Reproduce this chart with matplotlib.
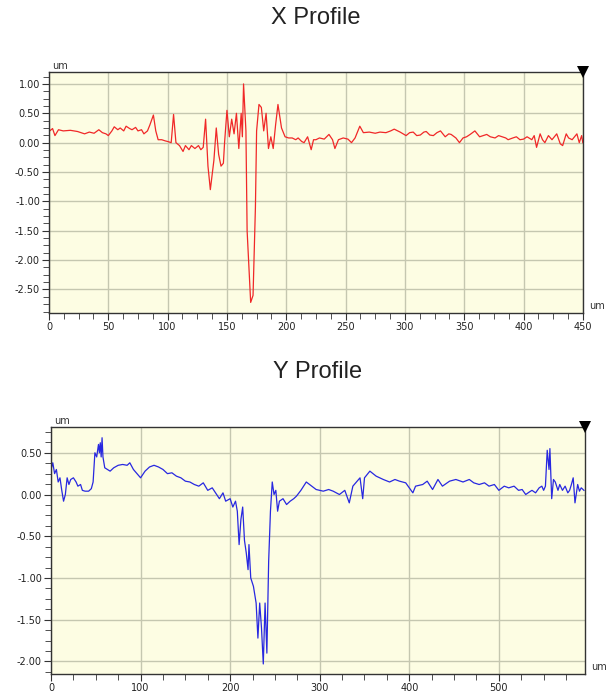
import matplotlib
matplotlib.use('Agg')
import matplotlib.pyplot as plt
from matplotlib.ticker import MultipleLocator, FormatStrFormatter

# X profile (position um, height um)
x_pos = [0, 3, 5, 8, 12, 18, 24, 30, 34, 38,
         42, 45, 48, 50, 53, 55, 58, 60, 63, 65,
         68, 70, 73, 75, 78, 80, 83, 85, 88, 90,
         92, 95, 98, 100, 103, 105, 107, 110, 113, 115,
         118, 120, 123, 126, 128, 130, 132, 134, 136, 139,
         141, 143, 145, 147, 148, 150, 152, 154, 156, 158,
         160, 162, 163, 164, 166, 167, 170, 172, 174, 175,
         177, 179, 181, 183, 185, 187, 189, 191, 193, 196,
         199, 202, 205, 208, 210, 213, 215, 218, 221, 223,
         225, 228, 232, 236, 239, 241, 244, 248, 252, 255,
         258, 262, 265, 270,
         275, 279, 284, 288, 291, 296, 301, 304, 307, 310,
         313, 316, 318, 321, 324, 327, 330, 334, 337, 339,
         343, 346, 349, 352, 355, 359, 363, 366, 369, 372,
         376, 379, 382, 385, 387, 391, 394, 397, 400, 403,
         407, 409, 411, 414, 416, 418, 421, 424, 426, 428,
         431, 433, 436, 438, 441, 443, 445, 447, 449, 450]
x_val = [0.19, 0.24, 0.12, 0.22, 0.2, 0.21, 0.19, 0.15, 0.18, 0.16,
         0.22, 0.17, 0.15, 0.12, 0.2, 0.27, 0.22, 0.25, 0.2, 0.28,
         0.24, 0.22, 0.26, 0.2, 0.22, 0.15, 0.2, 0.3, 0.47, 0.2,
         0.05, 0.05, 0.03, 0.02, 0.0, 0.48, 0.0, -0.05, -0.15, -0.05,
         -0.12, -0.05, -0.1, -0.05, -0.12, -0.08, 0.4, -0.4, -0.8, -0.3,
         0.25, -0.2, -0.4, -0.35, 0.0, 0.55, 0.1, 0.4, 0.15, 0.5,
         -0.1, 0.5, 0.1, 1.0, 0.2, -1.5, -2.72, -2.6, -1.1, 0.2,
         0.65, 0.6, 0.2, 0.5, -0.1, 0.1, -0.1, 0.3, 0.65, 0.25,
         0.1, 0.08, 0.08, 0.05, 0.08, 0.02, 0.0, 0.1, -0.12, 0.05,
         0.05, 0.08, 0.06, 0.14, 0.05, -0.1, 0.05, 0.08, 0.06, 0.0,
         0.08, 0.28, 0.17, 0.18,
         0.16, 0.18, 0.17, 0.2, 0.23, 0.18, 0.12, 0.17, 0.18, 0.12,
         0.13, 0.18, 0.19, 0.13, 0.12, 0.17, 0.2, 0.1, 0.15, 0.14,
         0.08, 0.0, 0.08, 0.1, 0.14, 0.2, 0.1, 0.12, 0.14, 0.1,
         0.08, 0.12, 0.1, 0.08, 0.05, 0.08, 0.1, 0.05, 0.06, 0.1,
         0.05, 0.12, -0.08, 0.15, 0.05, 0.0, 0.12, 0.05, 0.1, 0.15,
         -0.02, -0.05, 0.15, 0.08, 0.05, 0.1, 0.15, 0.0, 0.12, 0.0]

# Y profile
y_pos = [0, 2, 4, 6, 8, 10, 12, 14, 16, 18,
         20, 22, 25, 28, 30, 33, 35, 38, 42, 45,
         47, 49, 51, 53, 54, 55, 56, 57, 58, 60,
         63, 66, 70, 75, 80, 85, 88, 92, 96, 100,
         105, 110, 115, 120, 125, 130, 135, 140, 145, 150,
         155, 160, 165, 170, 175, 180, 185, 188, 192, 195,
         200, 203, 206, 208, 210, 212, 214, 216, 218, 220,
         221, 223, 226, 229, 231, 233, 235, 237, 239, 241,
         243, 245, 247, 249, 251, 253, 255, 259, 263, 267,
         271, 274, 279, 285, 291, 296, 304, 310, 315, 322,
         328, 333, 337, 341, 345, 348, 350, 356, 363, 371,
         378, 384, 389, 396, 404, 407, 415, 420, 426, 432,
         437, 445, 452, 460, 467, 472, 478, 484, 489, 495,
         500, 506, 511, 517, 522, 526, 530, 534, 537, 541,
         545, 548, 550, 552, 554, 556, 557, 559, 561, 563,
         566, 568, 571, 574, 577, 579, 581, 583, 585, 588,
         590, 592, 595]
y_val = [0.3, 0.38, 0.25, 0.3, 0.15, 0.2, 0.05, -0.08, 0.0, 0.2,
         0.12, 0.18, 0.2, 0.15, 0.1, 0.12, 0.05, 0.04, 0.04, 0.07,
         0.15, 0.5, 0.45, 0.6, 0.5, 0.62, 0.45, 0.68, 0.45, 0.32,
         0.3, 0.28, 0.32, 0.35, 0.36, 0.35, 0.38, 0.3, 0.25, 0.2,
         0.28, 0.33, 0.35, 0.33, 0.3, 0.25, 0.26, 0.22, 0.2, 0.16,
         0.15, 0.12, 0.1, 0.14, 0.05, 0.08, 0.0, -0.05, 0.02, -0.08,
         -0.05, -0.15, -0.08, -0.2, -0.6, -0.3, -0.15, -0.55, -0.7, -0.9,
         -0.6, -1.0, -1.1, -1.3, -1.72, -1.3, -1.6, -2.03, -1.3, -1.9,
         -0.8, -0.2, 0.15, 0.0, 0.05, -0.2, -0.08, -0.05, -0.12, -0.08,
         -0.05, -0.02, 0.05, 0.15, 0.1, 0.06, 0.04, 0.06, 0.04, 0.0,
         0.05, -0.1, 0.1, 0.15, 0.2, -0.05, 0.2, 0.28, 0.22, 0.18,
         0.15, 0.18, 0.16, 0.14, 0.02, 0.1, 0.12, 0.16, 0.06, 0.18,
         0.1, 0.16, 0.18, 0.15, 0.18, 0.14, 0.12, 0.14, 0.1, 0.12,
         0.05, 0.1, 0.08, 0.1, 0.05, 0.06, 0.0, 0.03, 0.05, 0.02,
         0.08, 0.1, 0.05, 0.1, 0.53, 0.3, 0.55, -0.05, 0.18, 0.15,
         0.05, 0.12, 0.05, 0.1, 0.02, 0.05, 0.12, 0.2, -0.1, 0.12,
         0.04, 0.08, 0.05]

BG = '#fdfde3'
GRID = '#c5c7b0'

plt.rcParams['font.family'] = ['DejaVu Sans']

fig = plt.figure(figsize=(6.08, 6.98), dpi=100)


def profile(rect, xs, ys, color, xmax, ylim, xmajor, title):
    ax = fig.add_axes(rect)
    ax.set_facecolor(BG)
    ax.plot(xs, ys, color=color, lw=0.9)
    ax.set_xlim(0, xmax)
    ax.set_ylim(*ylim)
    ax.xaxis.set_major_locator(MultipleLocator(xmajor))
    ax.xaxis.set_minor_locator(MultipleLocator(xmajor / 4))
    ax.yaxis.set_major_locator(MultipleLocator(0.5))
    ax.yaxis.set_minor_locator(MultipleLocator(0.125))
    ax.yaxis.set_major_formatter(FormatStrFormatter('%.2f'))
    ax.grid(True, which='major', color=GRID, lw=1.0)
    ax.tick_params(which='both', direction='out', labelsize=7, color='#333333', pad=1.5,
                   labelcolor='#222222')
    ax.tick_params(which='major', length=5)
    ax.tick_params(which='minor', length=4)
    for s in ax.spines.values():
        s.set_color('#333333')
        s.set_linewidth(1.0)
    ax.text(0.005, 1.005, 'um', transform=ax.transAxes, fontsize=7, va='bottom', ha='left',
            color='#333333')
    ax.text(1.012, 0.03, 'um', transform=ax.transAxes, fontsize=7, va='center', ha='left',
            color='#333333')
    ax.plot([1.0], [1.0], marker='v', color='black', markersize=9, transform=ax.transAxes,
            clip_on=False, zorder=5, markeredgewidth=0)
    fig.text(rect[0] + rect[2] / 2, rect[1] + rect[3] + 0.078, title, fontsize=17,
             family='Liberation Sans', ha='center', va='center', color='#222222')
    return ax


profile([0.0806, 0.5516, 0.878, 0.345], x_pos, x_val, '#f02828', 450, (-2.9, 1.2), 50,
        'X Profile')
profile([0.0839, 0.0344, 0.878, 0.354], y_pos, y_val, '#2828e0', 596, (-2.15, 0.81), 100,
        'Y Profile')

fig.savefig('out.png', dpi=100)
